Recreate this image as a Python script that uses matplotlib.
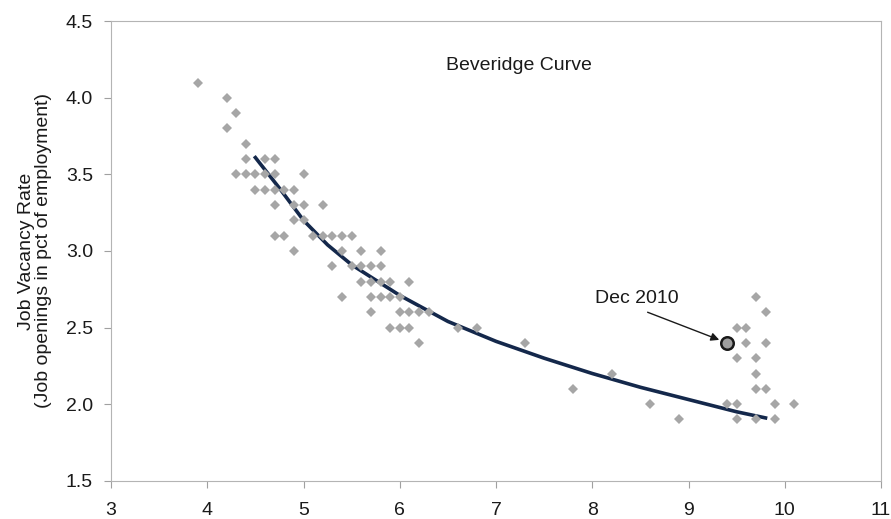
import numpy as np
import matplotlib as mpl
import matplotlib.pyplot as plt

mpl.rc('font', family=['Liberation Sans', 'DejaVu Sans'], size=14)
mpl.rc('figure', facecolor='w')

# monthly observations: unemployment rate (x) vs job vacancy rate (y)
unemp = [3.9, 4.2, 4.3, 4.2, 4.4,
         4.4, 4.6, 4.7,
         4.3, 4.4, 4.5, 4.6, 4.7, 5.0,
         4.5, 4.6, 4.7, 4.8, 4.9,
         4.7, 4.9, 5.0, 5.2,
         4.9, 5.0,
         4.7, 4.8, 5.1, 5.2, 5.3, 5.4, 5.5,
         4.9, 5.4, 5.6, 5.8,
         5.3, 5.5, 5.6, 5.7, 5.8,
         5.6, 5.7, 5.8, 5.9, 6.1,
         5.4, 5.7, 5.8, 5.9, 6.0,
         5.7, 6.0, 6.1, 6.2, 6.3,
         5.9, 6.0, 6.1, 6.6, 6.8,
         6.2, 7.3, 8.2, 7.8, 8.6, 8.9,
         9.7, 9.8, 9.5, 9.6, 9.6, 9.8, 9.5, 9.7, 9.7, 9.7, 9.8,
         9.4, 9.5, 9.9, 10.1, 9.5, 9.7, 9.9]
vacancy = [4.1, 4.0, 3.9, 3.8, 3.7,
           3.6, 3.6, 3.6,
           3.5, 3.5, 3.5, 3.5, 3.5, 3.5,
           3.4, 3.4, 3.4, 3.4, 3.4,
           3.3, 3.3, 3.3, 3.3,
           3.2, 3.2,
           3.1, 3.1, 3.1, 3.1, 3.1, 3.1, 3.1,
           3.0, 3.0, 3.0, 3.0,
           2.9, 2.9, 2.9, 2.9, 2.9,
           2.8, 2.8, 2.8, 2.8, 2.8,
           2.7, 2.7, 2.7, 2.7, 2.7,
           2.6, 2.6, 2.6, 2.6, 2.6,
           2.5, 2.5, 2.5, 2.5, 2.5,
           2.4, 2.4, 2.2, 2.1, 2.0, 1.9,
           2.7, 2.6, 2.5, 2.5, 2.4, 2.4, 2.3, 2.3, 2.2, 2.1, 2.1,
           2.0, 2.0, 2.0, 2.0, 1.9, 1.9, 1.9]

# latest point
dec2010 = (9.4, 2.4)

# fitted curve
fit_x = [4.5, 4.75, 5.0, 5.25, 5.5, 6.0, 6.5, 7.0, 7.5, 8.0, 8.5, 9.0, 9.5, 9.8]
fit_y = [3.61, 3.41, 3.20, 3.04, 2.91, 2.71, 2.54, 2.41, 2.30, 2.20, 2.11, 2.03, 1.95, 1.91]

xticks = [3, 4, 5, 6, 7, 8, 9, 10, 11]
yticks = [1.5, 2.0, 2.5, 3.0, 3.5, 4.0, 4.5]

fig = plt.figure(figsize=(8.91, 5.19), dpi=100)
ax = fig.add_axes([0.1246, 0.0738, 0.8642, 0.8852])

ax.plot(fit_x, fit_y, color='#14284b', linewidth=2.6, zorder=2)
ax.plot(unemp, vacancy, 'D', color='#a6a6a6', markersize=5, markeredgewidth=0, zorder=3)
ax.plot(dec2010[0], dec2010[1], 'o', markersize=9, markerfacecolor='#a0a0a0',
        markeredgecolor='#1a1a1a', markeredgewidth=1.8, zorder=4)

ax.annotate('', xy=dec2010, xytext=(8.575, 2.60),
            arrowprops=dict(arrowstyle='-|>', color='#1a1a1a', lw=1,
                            mutation_scale=12, shrinkA=0, shrinkB=6))
ax.text(8.46, 2.69, 'Dec 2010', ha='center', va='center', color='#1a1a1a')
ax.text(0.53, 0.904, 'Beveridge Curve', transform=ax.transAxes,
        ha='center', va='center', color='#1a1a1a')

ax.set_xlim(3, 11)
ax.set_ylim(1.5, 4.5)
ax.set_xticks(xticks)
ax.set_yticks(yticks)
ax.set_yticklabels(['%.1f' % v for v in yticks])
ax.tick_params(direction='out', length=5, color='#a0a0a0', labelcolor='#1a1a1a')
ax.tick_params(axis='y', pad=8)
ax.tick_params(axis='x', pad=10)
for sp in ax.spines.values():
    sp.set_color('#b4b4b4')

ax.set_ylabel('Job Vacancy Rate\n(Job openings in pct of employment)', color='#1a1a1a',
              labelpad=10, linespacing=1.0)

plt.savefig('out.png', dpi=100)
